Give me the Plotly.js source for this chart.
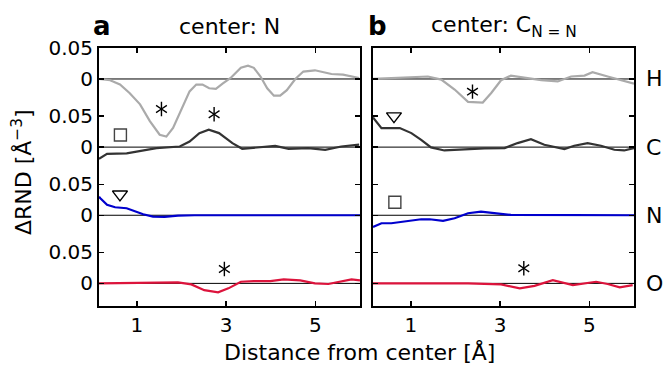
<!DOCTYPE html>
<html><head><meta charset="utf-8">
<script src="https://cdn.plot.ly/plotly-3.0.1.min.js"></script>
<style>html,body{margin:0;padding:0;background:#fff}</style>
</head><body><div id="chart" style="width:665px;height:366px"></div>
<script>
// ---- data (ΔRND per element, offset later for stacking) ----
const elements = ['H','C','N','O'];
const offsets  = [0.33, 0.22, 0.11, 0];
const colors   = ['#aaaaaa','#333333','#0000cd','#dc143c'];

// panel a: center N
const xa_H = [0.15,0.40,0.62,0.84,1.07,1.29,1.51,1.66,1.81,1.99,2.18,2.33,2.47,2.62,2.77,2.92,3.10,3.33,3.49,3.62,3.77,3.92,4.07,4.21,4.36,4.55,4.73,4.99,5.18,5.36,5.62,5.98];
const ya_H = [0,-0.002,-0.009,-0.023,-0.041,-0.068,-0.090,-0.093,-0.079,-0.050,-0.020,-0.009,-0.009,-0.015,-0.016,-0.0075,0.0016,0.018,0.0215,0.018,0.004,-0.015,-0.027,-0.027,-0.018,0,0.012,0.014,0.011,0.008,0.007,0.0016];
const xa_C = [0.15,0.33,0.77,1.13,1.44,1.96,2.18,2.40,2.61,2.84,3.14,3.36,3.73,4.10,4.40,4.84,5.22,5.58,5.98];
const ya_C = [-0.019,-0.011,-0.010,-0.0055,-0.0017,0.001,0.009,0.0226,0.028,0.0226,0.0065,-0.0027,0,0.002,-0.0027,-0.0016,-0.0043,0.001,0.004];
const xa_N = [0.15,0.18,0.33,0.51,0.77,0.96,1.14,1.36,1.62,1.92,2.29,6.0];
const ya_N = [0.030,0.0274,0.0170,0.0129,0.0113,0.0059,0.0016,-0.0022,-0.0027,-0.0005,0,0];
const xa_O = [0.15,1.55,1.92,2.22,2.51,2.82,3.05,3.33,3.62,3.99,4.29,4.66,4.99,5.29,5.58,5.81,6.0];
const ya_O = [0,0.001,0.0016,-0.0016,-0.011,-0.0145,-0.008,0.0027,0.0038,0.0038,0.0065,0.0048,0,-0.001,0.0027,0.0065,0.005];

// panel b: center C(N=N)
const xb_H = [0.15,0.78,1.38,1.68,1.98,2.28,2.61,2.80,3.02,3.24,3.54,3.92,4.29,4.59,4.89,5.07,5.41,5.78,6.0];
const yb_H = [0,0.0016,0.004,-0.001,-0.017,-0.037,-0.038,-0.0226,-0.002,0.0054,0.0016,-0.002,-0.004,0.004,0.0054,0.011,0.004,-0.004,-0.0075];
const xb_C = [0.15,0.34,0.75,1.01,1.23,1.45,1.75,2.20,2.65,3.10,3.39,3.69,3.99,4.44,4.66,4.96,5.26,5.56,5.78,6.0];
const yb_C = [0.048,0.0307,0.0307,0.0226,0.0118,-0.0005,-0.0054,-0.0032,-0.0022,-0.0016,0.0065,0.0129,0.0038,-0.0032,0.0022,0.0065,0.0022,-0.0043,-0.0054,-0.0016];
const xb_N = [0.15,0.34,0.56,0.86,1.23,1.42,1.72,1.98,2.28,2.57,2.87,3.24,6.0];
const yb_N = [-0.019,-0.0129,-0.0129,-0.0102,-0.0065,-0.0065,-0.0091,-0.0048,0.0032,0.0059,0.0032,0.0005,0];
const xb_O = [0.15,2.28,3.02,3.44,3.77,4.18,4.63,5.15,5.41,5.68,5.97];
const yb_O = [0,0,-0.0016,-0.008,-0.004,0.0053,-0.0027,0.0026,-0.001,-0.0065,-0.0027];

// feature markers (in stacked coordinates)
const astA_x = [1.55, 2.73, 2.96], astA_y = [0.2815, 0.273, 0.0233];
const sqA_x = [0.63], sqA_y = [0.2396];
const triA_x = [0.62], triA_y = [0.1438];
const astB_x = [2.38, 3.53], astB_y = [0.3095, 0.0244];
const sqB_x = [0.64], sqB_y = [0.131];
const triB_x = [0.62], triB_y = [0.270];

const yTickVals = [], yTickText = [];
offsets.forEach(o => { yTickVals.push(o, o + 0.05); yTickText.push('0', '0.05'); });

const panels = [
  {xa:'x', ya:'y', data:[[xa_H,ya_H],[xa_C,ya_C],[xa_N,ya_N],[xa_O,ya_O]],
   ast:[astA_x,astA_y], sq:[sqA_x,sqA_y], tri:[triA_x,triA_y]},
  {xa:'x2', ya:'y2', data:[[xb_H,yb_H],[xb_C,yb_C],[xb_N,yb_N],[xb_O,yb_O]],
   ast:[astB_x,astB_y], sq:[sqB_x,sqB_y], tri:[triB_x,triB_y]}
];

const traces = [];
const shapes = [];
panels.forEach(p => {
  p.data.forEach((d, i) => {
    shapes.push({type:'line', xref: p.xa + ' domain', yref: p.ya, x0:0, x1:1, y0:offsets[i], y1:offsets[i],
      line:{color:'#000', width:1}, layer:'below'});
    traces.push({x:d[0], y:d[1].map(v => v + offsets[i]), xaxis:p.xa, yaxis:p.ya, mode:'lines',
      line:{color:colors[i], width:2.2}, hoverinfo:'skip'});
  });
  ['y-up-open','y-down-open'].forEach(s => traces.push({x:p.ast[0], y:p.ast[1], xaxis:p.xa, yaxis:p.ya, mode:'markers',
    marker:{symbol:s, size:9, color:'#000', line:{color:'#000', width:1.4}}}));
  traces.push({x:p.sq[0], y:p.sq[1], xaxis:p.xa, yaxis:p.ya, mode:'markers',
    marker:{symbol:'square-open', size:12, color:'#444', line:{color:'#444', width:1.4}}});
  traces.push({x:p.tri[0], y:p.tri[1], xaxis:p.xa, yaxis:p.ya, mode:'markers',
    marker:{symbol:'triangle-down-open', size:13, color:'#000', line:{color:'#000', width:1.4}}});
});

const xCommon = {range:[0.15, 6.0], tickvals:[1,3,5], ticktext:['1','3','5'], ticks:'inside', ticklen:5, tickwidth:1.5,
  tickcolor:'#000', showline:true, linecolor:'#000', linewidth:2, mirror:'ticks', showgrid:false, zeroline:false,
  tickfont:{size:20, color:'#000'}};
const yCommon = {range:[-0.0365, 0.38], tickvals:yTickVals, ticktext:yTickText, ticks:'inside', ticklen:5, tickwidth:1.5,
  tickcolor:'#000', showline:true, linecolor:'#000', linewidth:2, mirror:'ticks', showgrid:false, zeroline:false,
  tickfont:{size:20, color:'#000'}};

const W = 535, H = 258, L = 99;
const annotations = [
  {text:'<b>a</b>', xref:'paper', yref:'paper', x:(91-L)/W, y:1.085, xanchor:'left', yanchor:'middle', showarrow:false, font:{size:26}},
  {text:'<b>b</b>', xref:'paper', yref:'paper', x:(366-L)/W, y:1.085, xanchor:'left', yanchor:'middle', showarrow:false, font:{size:26}},
  {text:'center: N', xref:'x domain', yref:'paper', x:0.5, y:1.085, xanchor:'center', yanchor:'middle', showarrow:false, font:{size:22}},
  {text:'center: C<sub>N = N</sub>', xref:'x2 domain', yref:'paper', x:0.5, y:1.085, xanchor:'center', yanchor:'middle', showarrow:false, font:{size:22}},
  {text:'Distance from center [Å]', xref:'paper', yref:'paper', x:(359-L)/W, y:-(352-306)/H, xanchor:'center', yanchor:'middle', showarrow:false, font:{size:22}},
  {text:'ΔRND [Å<sup>−3</sup>]', xref:'paper', yref:'paper', x:(22-L)/W, y:(306-172)/H, xanchor:'center', yanchor:'middle', textangle:-90, showarrow:false, font:{size:22}}
];
elements.forEach((e, i) => annotations.push({text:e, xref:'paper', yref:'y2', x:(644-L)/W, y:offsets[i],
  xanchor:'left', yanchor:'middle', showarrow:false, font:{size:22}}));

const layout = {
  width:665, height:366, margin:{l:99, r:31, t:48, b:60}, showlegend:false,
  paper_bgcolor:'#fff', plot_bgcolor:'#fff',
  font:{family:'DejaVu Sans', color:'#000'},
  xaxis: Object.assign({domain:[0, 261/535], anchor:'y'}, xCommon),
  xaxis2: Object.assign({domain:[274/535, 1], anchor:'y2'}, xCommon),
  yaxis: Object.assign({anchor:'x'}, yCommon),
  yaxis2: Object.assign({anchor:'x2', showticklabels:false}, yCommon),
  shapes, annotations
};
Plotly.newPlot('chart', traces, layout, {staticPlot:true});
</script></body></html>
